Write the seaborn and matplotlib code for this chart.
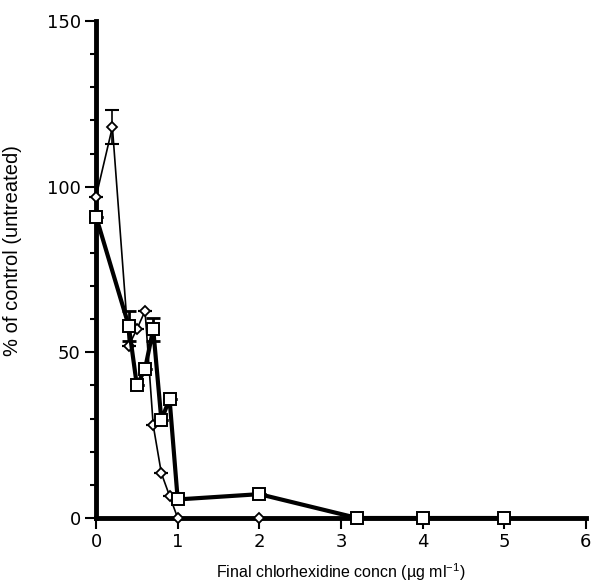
import matplotlib
matplotlib.use("Agg")
import matplotlib.pyplot as plt
import seaborn as sns
import pandas as pd
import numpy as np
from matplotlib.ticker import MultipleLocator

# Data
sq_x = [0, 0.4, 0.5, 0.6, 0.7, 0.8, 0.9, 1.0, 2.0, 3.2, 4.0, 5.0]
sq_y = [91, 58, 40, 45, 57, 29.5, 36, 5.6, 7.2, 0, 0, 0]
sq_err = [0, 4.5, 0, 0, 3.5, 0, 0, 0, 0, 0, 0, 0]

di_x = [0, 0.2, 0.4, 0.5, 0.6, 0.7, 0.8, 0.9, 1.0, 2.0]
di_y = [97, 118, 52, 57, 62.5, 28, 13.5, 6.7, 0, 0]
di_err = [0, 5, 0, 0, 0, 0, 0, 0, 0, 0]

x_ticks = [0, 1, 2, 3, 4, 5, 6]
y_ticks = [0, 50, 100, 150]

sns.set_style("ticks")
plt.rcParams['font.family'] = ['Liberation Sans', 'DejaVu Sans']
plt.rcParams['mathtext.default'] = 'regular'
plt.rcParams['text.color'] = 'black'
plt.rcParams['axes.labelcolor'] = 'black'
plt.rcParams['xtick.color'] = 'black'
plt.rcParams['ytick.color'] = 'black'

fig = plt.figure(figsize=(5.93, 5.84), dpi=100)
ax = fig.add_axes([0.162, 0.113, 0.826, 0.851])

df_sq = pd.DataFrame({"x": sq_x, "y": sq_y})
df_di = pd.DataFrame({"x": di_x, "y": di_y})

# error bars (caps)
ax.errorbar(di_x, di_y, yerr=di_err, fmt='none', ecolor='black', elinewidth=1.2,
            capsize=5, capthick=1.5, zorder=2, clip_on=False)
ax.errorbar(sq_x, sq_y, yerr=sq_err, fmt='none', ecolor='black', elinewidth=2,
            capsize=5, capthick=2, zorder=2, clip_on=False)

sns.lineplot(data=df_di, x="x", y="y", ax=ax, color='black', linewidth=1.2,
             marker='D', markersize=5.5, markerfacecolor='white',
             markeredgecolor='black', markeredgewidth=1.3, estimator=None,
             zorder=3, clip_on=False)
sns.lineplot(data=df_sq, x="x", y="y", ax=ax, color='black', linewidth=3,
             marker='s', markersize=8, markerfacecolor='white',
             markeredgecolor='black', markeredgewidth=1.4, estimator=None,
             zorder=4, clip_on=False)

ax.set_xlim(0, 6)
ax.set_ylim(0, 150)
ax.set_xticks(x_ticks)
ax.set_yticks(y_ticks)
ax.yaxis.set_minor_locator(MultipleLocator(10))
ax.set_xticklabels([str(t) for t in x_ticks], fontfamily='DejaVu Sans')
ax.set_yticklabels([str(t) for t in y_ticks], fontfamily='DejaVu Sans')

for s in ['top', 'right']:
    ax.spines[s].set_visible(False)
for s in ['left', 'bottom']:
    ax.spines[s].set_linewidth(3.5)
    ax.spines[s].set_color('black')

ax.tick_params(axis='both', which='major', direction='out', length=8, width=1.5,
               labelsize=13, color='black', labelcolor='black', pad=3)
ax.tick_params(axis='y', which='minor', direction='out', length=4, width=1.5, color='black')

ax.set_xlabel("Final chlorhexidine concn (µg ml$^{-1}$)", fontsize=11.5, labelpad=7, color='black')
ax.set_ylabel("% of control (untreated)", fontsize=14.5, color='black')
ax.yaxis.set_label_coords(-0.151, 0.539)

fig.savefig("out.png", dpi=100)
